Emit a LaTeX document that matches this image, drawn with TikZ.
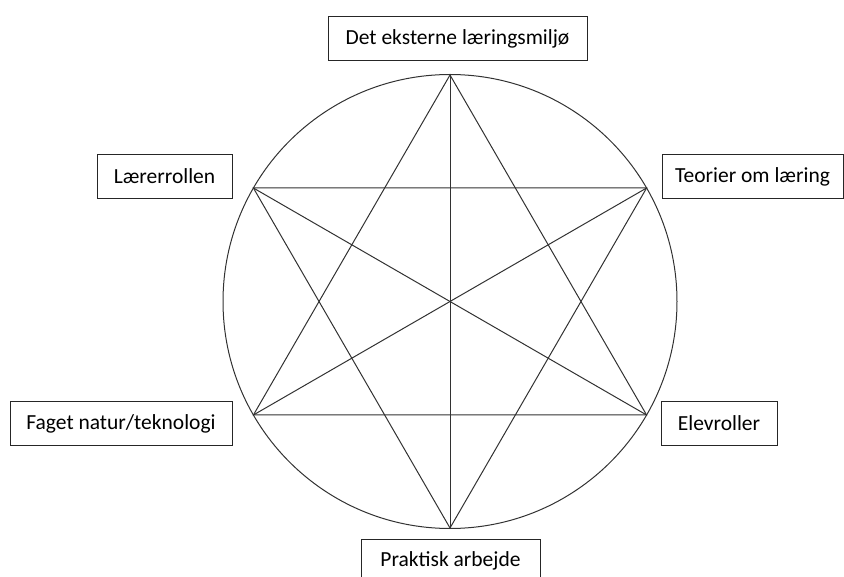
\documentclass[tikz,border=0pt]{standalone}
\usepackage{fontspec}
\setmainfont{Carlito}
\usepackage{tikz}
\definecolor{linegray}{RGB}{50,50,50}

\begin{document}
\begin{tikzpicture}[
    x=1pt, y=-1pt,
    label box/.style={
      rectangle, draw=black!85, line width=1pt, fill=white,
      inner sep=0pt, minimum height=44pt,
      align=center, font=\fontsize{21.5}{24}\selectfont
    },
    star line/.style={draw=linegray, line width=1pt},
    rim/.style={draw=linegray, line width=1pt}
  ]
    \useasboundingbox (0,0) rectangle (844,577);
    \clip (0,0) rectangle (844,577);
    % circle and the six points of the star
    \coordinate (c) at (450,301.5);
    \coordinate (top) at (450,75);
    \coordinate (ur) at (646.6,188);
    \coordinate (lr) at (646.6,415);
    \coordinate (bot) at (450,528);
    \coordinate (ll) at (253.4,415);
    \coordinate (ul) at (253.4,188);
    \draw[rim] (c) circle[radius=227];
    \draw[star line] (top) -- (lr) -- (ll) -- cycle;
    \draw[star line] (bot) -- (ul) -- (ur) -- cycle;
    \draw[star line] (top) -- (bot);
    \draw[star line] (ul) -- (lr);
    \draw[star line] (ur) -- (ll);
    % labels
    \node[label box, minimum width=259pt] (miljo) at (457.5,39) {Det eksterne læringsmiljø};
    \node[label box, minimum width=135pt] (laerer) at (164.5,176.5) {Lærerrollen};
    \node[label box, minimum width=181pt] (teori) at (752.5,176.5) {Teorier om læring};
    \node[label box, minimum width=222pt] (faget) at (121,423.5) {Faget natur/teknologi};
    \node[label box, minimum width=116pt] (elev) at (719,423.5) {Elevroller};
    \node[label box, minimum width=179pt] (praktisk) at (450.5,561) {Praktisk arbejde};
  \end{tikzpicture}
\end{document}
